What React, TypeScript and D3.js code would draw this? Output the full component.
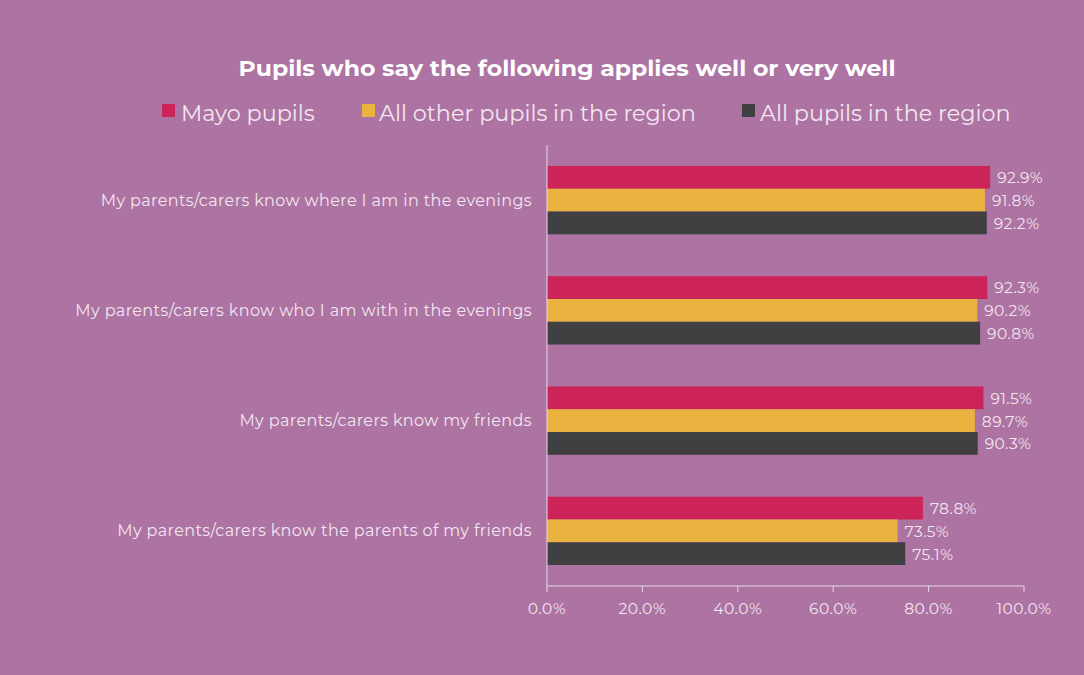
import * as d3 from "d3";

const categories = [
  "My parents/carers know where I am in the evenings",
  "My parents/carers know who I am with in the evenings",
  "My parents/carers know my friends",
  "My parents/carers know the parents of my friends",
];
const seriesNames = ["Mayo pupils", "All other pupils in the region", "All pupils in the region"];
const mayo = [92.9, 92.3, 91.5, 78.8];
const otherPupils = [91.8, 90.2, 89.7, 73.5];
const allPupils = [92.2, 90.8, 90.3, 75.1];
const xTicks = [0, 20, 40, 60, 80, 100];

const colors = ["#cc2359", "#eab23e", "#404043"];
const seriesValues = [mayo, otherPupils, allPupils];

const W = 1084;
const H = 675;
const BG = "#ad73a3";
const TEXT = "#f3e6ef";
const FONT = "Montserrat, 'Open Sans', Lato, sans-serif";

export default function App() {
  const x = d3.scaleLinear().domain([0, 100]).range([547, 1024]);
  const y = d3.scaleBand<string>().domain(categories).range([145, 586]).paddingInner(0.38).paddingOuter(0.19);
  const inner = d3.scaleBand<number>().domain([0, 1, 2]).range([0, y.bandwidth()]);

  const legendItems = [
    { sq: 162, tx: 181 },
    { sq: 362, tx: 379 },
    { sq: 742, tx: 760 },
  ];

  return (
    <svg width={W} height={H} style={{ position: "absolute", left: 0, top: 0, background: BG }} fontFamily={FONT}>
      <rect width={W} height={H} fill={BG} />
      <text x={567} y={76} textAnchor="middle" fill="#ffffff" fontSize={21} fontWeight={700} textLength={657} lengthAdjust="spacingAndGlyphs">
        Pupils who say the following applies well or very well
      </text>
      {seriesNames.map((s, i) => (
        <g key={s}>
          <rect x={legendItems[i].sq} y={104} width={13} height={13} fill={colors[i]} />
          <text x={legendItems[i].tx} y={121} fill={TEXT} fontSize={22.3}>
            {s}
          </text>
        </g>
      ))}
      {categories.map((c, ci) => (
        <g key={c}>
          <text x={532} y={(y(c) ?? 0) + y.bandwidth() / 2} dy="0.35em" textAnchor="end" fill={TEXT} fontSize={16} letterSpacing={0.4}>
            {c}
          </text>
          {seriesValues.map((vals, si) => {
            const by = (y(c) ?? 0) + (inner(si) ?? 0);
            const v = vals[ci];
            return (
              <g key={si}>
                <rect x={x(0)} y={by} width={x(v) - x(0)} height={inner.bandwidth()} fill={colors[si]} />
                <text x={x(v) + 7} y={by + inner.bandwidth() / 2} dy="0.38em" fill={TEXT} fontSize={15.5} letterSpacing={0.4}>
                  {v.toFixed(1)}%
                </text>
              </g>
            );
          })}
        </g>
      ))}
      <line x1={x(0)} x2={x(0)} y1={145} y2={586} stroke="#e9d9e6" strokeWidth={1} />
      <line x1={x(0)} x2={x(100)} y1={586} y2={586} stroke="#e9d9e6" strokeWidth={1} />
      {xTicks.map((t) => (
        <g key={t}>
          <line x1={x(t)} x2={x(t)} y1={586} y2={592} stroke="#e9d9e6" strokeWidth={1} />
          <text x={x(t)} y={614} textAnchor="middle" fill={TEXT} fontSize={15.5} letterSpacing={0.5}>
            {t.toFixed(1)}%
          </text>
        </g>
      ))}
    </svg>
  );
}
